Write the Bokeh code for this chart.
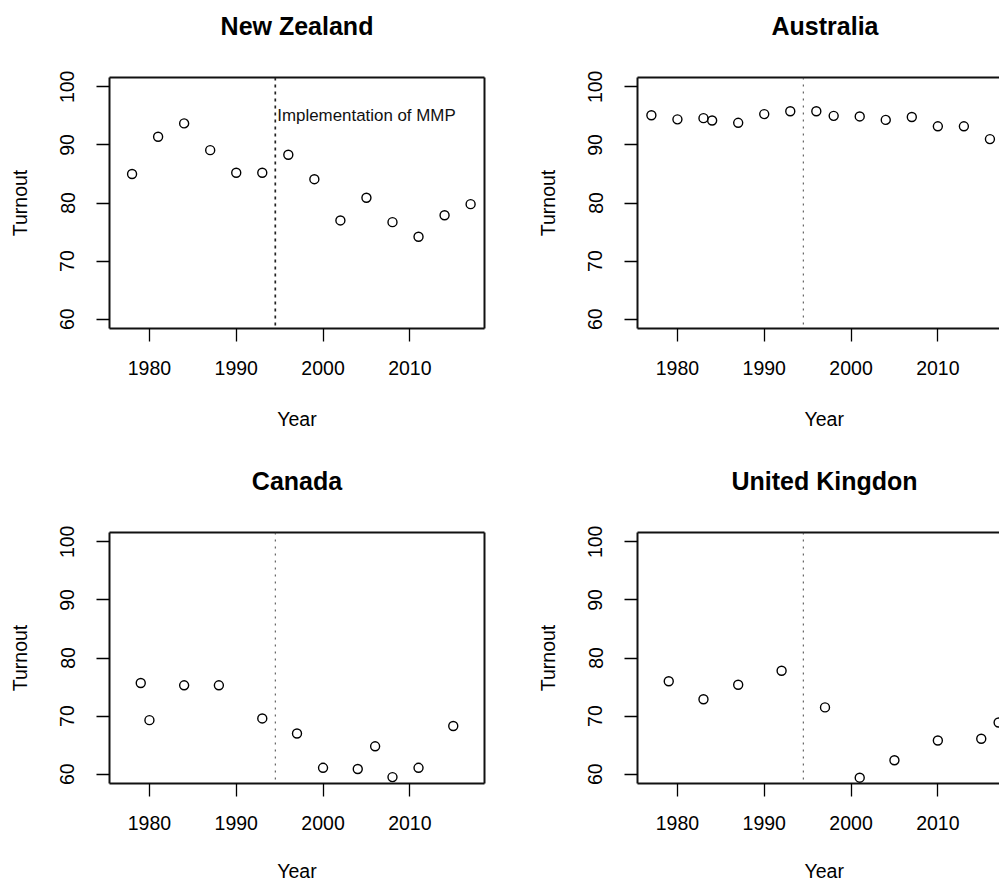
from bokeh.plotting import figure
from bokeh.models import LinearAxis, FixedTicker, Span, Range1d, Title
from bokeh.layouts import gridplot
from bokeh.embed import file_html
from bokeh.resources import INLINE
from bokeh.core.properties import value

# ---------------- data ----------------
nz_years = [1978, 1981, 1984, 1987, 1990, 1993, 1996, 1999, 2002, 2005, 2008, 2011, 2014, 2017]
nz_turnout = [85.0, 91.4, 93.7, 89.1, 85.2, 85.2, 88.3, 84.1, 77.0, 80.9, 76.7, 74.2, 77.9, 79.8]

au_years = [1977, 1980, 1983, 1984, 1987, 1990, 1993, 1996, 1998, 2001, 2004, 2007, 2010, 2013, 2016]
au_turnout = [95.1, 94.4, 94.6, 94.2, 93.8, 95.3, 95.8, 95.8, 95.0, 94.9, 94.3, 94.8, 93.2, 93.2, 91.0]

ca_years = [1979, 1980, 1984, 1988, 1993, 1997, 2000, 2004, 2006, 2008, 2011, 2015]
ca_turnout = [75.7, 69.3, 75.3, 75.3, 69.6, 67.0, 61.1, 60.9, 64.8, 59.5, 61.1, 68.3]

uk_years = [1979, 1983, 1987, 1992, 1997, 2001, 2005, 2010, 2015, 2017]
uk_turnout = [76.0, 72.9, 75.4, 77.8, 71.5, 59.4, 62.4, 65.8, 66.1, 68.9]

x_ticks = [1980, 1990, 2000, 2010]
y_ticks = [60, 70, 80, 90, 100]
mmp_year = 1994.5
annotation_text = "Implementation of MMP"
annotation_y = 95

# ---------------- style ----------------
FONT = "Liberation Sans"
TICK_FS = "19.5px"
TITLE_FS = "25px"
X_START, X_END = 1975.4, 2018.6
Y_START, Y_END = 58.4, 101.6

LEFT_W, RIGHT_W = 528, 471
TOP_H, BOT_H = 455, 428
MB_LEFT, MB_TOP, MB_RIGHT = 109, 77, 44
FRAME_H = 251
FRAME_W_LEFT = LEFT_W - MB_LEFT - MB_RIGHT
PX_PER_YEAR = FRAME_W_LEFT / (X_END - X_START)


def style_axis(ax, ticks, size=TICK_FS):
    ax.ticker = FixedTicker(ticks=ticks)
    ax.minor_tick_line_color = None
    ax.major_tick_in = 0
    ax.major_tick_out = 13
    ax.major_tick_line_width = 1.3
    ax.major_tick_line_color = "black"
    ax.axis_line_width = 2
    ax.axis_line_color = "#111111"
    ax.major_label_text_font = FONT
    ax.major_label_text_font_size = size
    ax.major_label_text_color = "black"


def spacer_label(ax, gap):
    # a blank axis label whose standoff reserves room between the box and the titles
    ax.axis_label = " "
    ax.axis_label_text_font_size = "1px"
    ax.axis_label_standoff = gap


def empty_axis():
    return LinearAxis(ticker=FixedTicker(ticks=[]), major_tick_out=0, major_tick_in=0,
                      major_label_standoff=0, minor_tick_line_color=None,
                      major_tick_line_color=None,
                      axis_line_width=2, axis_line_color="#111111")


def panel(name, years, turnout, is_right, is_bottom, nz=False, title_offset=0, year_offset=0):
    w = RIGHT_W if is_right else LEFT_W
    h = BOT_H if is_bottom else TOP_H
    if is_right:
        x_end = X_START + (w - MB_LEFT) / PX_PER_YEAR
        mbr = 0
    else:
        x_end = X_END
        mbr = MB_RIGHT
    p = figure(width=w, height=h, x_range=Range1d(X_START, x_end), y_range=Range1d(Y_START, Y_END),
               output_backend="svg", toolbar_location=None,
               min_border_left=MB_LEFT, min_border_right=mbr, min_border_top=MB_TOP,
               min_border_bottom=h - MB_TOP - FRAME_H,
               outline_line_color=None, background_fill_color="white", border_fill_color="white")
    p.xgrid.visible = False
    p.ygrid.visible = False

    xa = p.xaxis[0]
    style_axis(xa, x_ticks)
    xa.major_label_standoff = 19
    spacer_label(xa, 23 if is_bottom else 26)
    ya = p.yaxis[0]
    style_axis(ya, y_ticks)
    ya.major_label_orientation = "vertical"
    ya.major_label_standoff = 22
    ya.axis_label = "Turnout"
    ya.axis_label_text_font = FONT
    ya.axis_label_text_font_size = TICK_FS
    ya.axis_label_text_font_style = "normal"
    ya.axis_label_text_color = "black"
    ya.axis_label_standoff = 27

    top_ax = empty_axis()
    spacer_label(top_ax, 34)
    p.add_layout(top_ax, "above")
    if not is_right:
        p.add_layout(empty_axis(), "right")

    # main title
    p.title.text = name
    p.title.text_font = FONT
    p.title.text_font_size = TITLE_FS
    p.title.text_font_style = "bold"
    p.title.text_color = "black"
    p.title.standoff = 0
    p.title.vertical_align = "bottom"
    if is_right:
        p.title.align = "left"
        p.title.offset = title_offset
    else:
        p.title.align = "center"

    # x axis label "Year"
    yt = Title(text="Year", text_font=FONT, text_font_size=TICK_FS, text_font_style="normal",
               text_color="black", standoff=0, vertical_align="top")
    if is_right:
        yt.align = "left"
        yt.offset = year_offset
    else:
        yt.align = "center"
    p.add_layout(yt, "below")

    if nz:
        p.add_layout(Span(location=mmp_year, dimension="height", line_color="#222222",
                          line_width=1.7, line_dash="3 4"))
        p.text(x=[mmp_year], y=[annotation_y], text=[annotation_text], text_align="left",
               text_baseline="middle", x_offset=2, text_font=value(FONT),
               text_font_size="16.9px", text_color="#111111")
    else:
        p.add_layout(Span(location=mmp_year, dimension="height", line_color="#444444",
                          line_width=1, line_dash="2 5"))

    p.scatter(x=years, y=turnout, marker="circle", size=9, fill_color=None,
              line_color="black", line_width=1.4)
    return p


p_nz = panel("New Zealand", nz_years, nz_turnout, False, False, nz=True)
p_au = panel("Australia", au_years, au_turnout, True, False, title_offset=134, year_offset=167)
p_ca = panel("Canada", ca_years, ca_turnout, False, True)
p_uk = panel("United Kingdon", uk_years, uk_turnout, True, True, title_offset=94, year_offset=167)

grid = gridplot([[p_nz, p_au], [p_ca, p_uk]], toolbar_location=None)

open("out.html", "w").write(file_html(grid, INLINE))
